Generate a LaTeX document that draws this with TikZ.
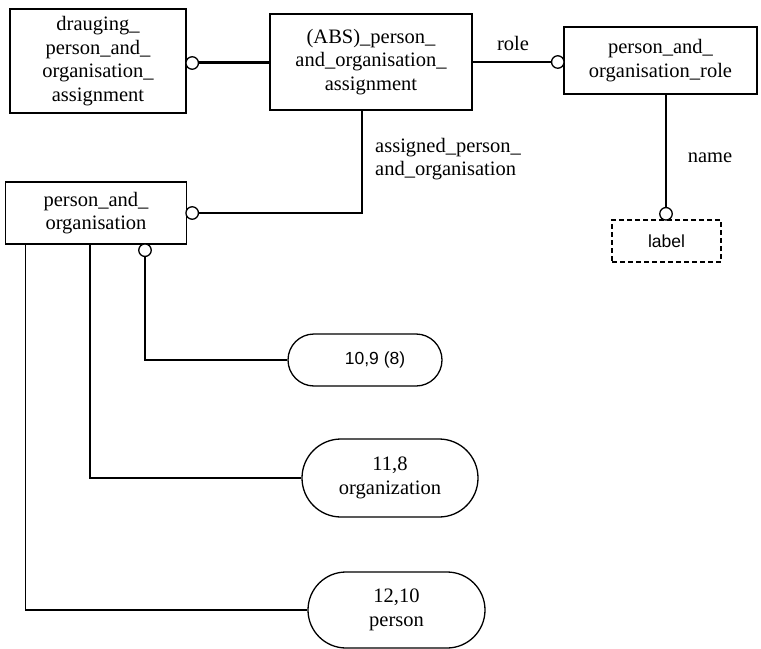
\documentclass[tikz,border=0pt]{standalone}
\usepackage{fontspec}
\setmainfont{Liberation Serif}
\newfontfamily\labsans{Liberation Sans}
\begin{document}
\begin{tikzpicture}[x=1bp,y=-1bp,
  ent/.style={draw, line width=1.3bp, inner sep=0pt, align=center,
    font=\fontsize{20.5bp}{23.5bp}\selectfont},
  ovalbox/.style={ent},
  ring/.style={draw, circle, line width=1.3bp, fill=white, inner sep=0pt, minimum size=12.5bp},
  conn/.style={line width=1.3bp},
  thickconn/.style={line width=3bp},
  lbl/.style={font=\fontsize{20.5bp}{23.5bp}\selectfont, inner sep=0pt, align=left}
]
\useasboundingbox (0,0) rectangle (761,649);

\node[ent, minimum width=176bp, minimum height=104bp] (drg) at (98,61)
  {drauging\_\\person\_and\_\\organisation\_\\assignment};
\node[ent, minimum width=202bp, minimum height=96bp] (abs) at (371,62)
  {(ABS)\_person\_\\and\_organisation\_\\assignment};
\node[ent, minimum width=193bp, minimum height=67bp] (role) at (660.5,60.5)
  {person\_and\_\\organisation\_role};
\node[ent, dash pattern=on 5bp off 3bp, minimum width=109bp, minimum height=42bp,
  font=\labsans\fontsize{17.5bp}{21bp}\selectfont] (lab) at (666.5,241) {label};
\node[ent, minimum width=181bp, minimum height=62bp] (pao) at (96,213)
  {person\_and\_\\organisation};

\node[ovalbox, minimum width=154bp, minimum height=52bp, rounded corners=26bp,
  font=\labsans\fontsize{17.5bp}{21bp}\selectfont] (o1) at (365,360) {\hspace*{20bp}10,9 (8)};
\node[ovalbox, minimum width=176bp, minimum height=78bp, rounded corners=39bp] (o2) at (390,478)
  {11,8\\organization};
\node[ovalbox, minimum width=177bp, minimum height=76bp, rounded corners=38bp] (o3) at (396.5,610)
  {12,10\\person};

\node[ring] (c1) at (192.2,63) {};
\node[ring] (crole) at (557.8,62) {};
\node[ring] (cname) at (666,213.8) {};
\node[ring] (c2) at (192.2,213) {};
\node[ring] (c3) at (145,250.2) {};

\draw[thickconn] (abs.west |- c1) -- (c1.east);
\draw[conn] (abs.east |- crole) -- (crole.west);
\draw[conn] (role.south -| cname) -- (cname.north);
\draw[conn] (c2.east) -| ([xshift=-9bp]abs.south);
\draw[conn] (c3.south) |- (o1.west);
\draw[conn] ([xshift=85bp]pao.south west) |- (o2.west);
\draw[conn] ([xshift=21bp]pao.south west) |- (o3.west);

\node[lbl] (trole) at (513,43) {role};
\node[lbl] (tname) at (710,158) {name};
\node[lbl, anchor=west] (tasg) at (375,159) {assigned\_person\_\\and\_organisation};
\end{tikzpicture}
\end{document}
